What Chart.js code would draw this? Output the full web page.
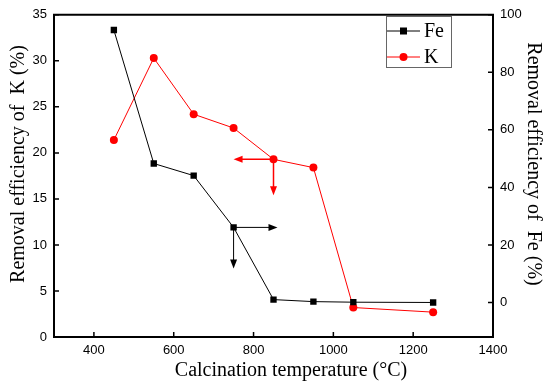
<!DOCTYPE html>
<html>
<head>
<meta charset="utf-8">
<script src="https://cdn.jsdelivr.net/npm/chart.js@4"></script>
<style>
  html, body { margin: 0; padding: 0; background: #fff; }
  #wrap { width: 550px; height: 385px; }
</style>
</head>
<body>
<div id="wrap"><canvas id="chart"></canvas></div>
<script>
const temps = [450, 550, 650, 750, 850, 950, 1050, 1250];
const feValues = [94.7, 48.3, 44.1, 26.1, 1.0, 0.3, 0.1, 0.0];
const kValues = [21.4, 30.3, 24.2, 22.7, 19.3, 18.4, 3.2, 2.7];
const xTicks = [400, 600, 800, 1000, 1200, 1400];
const kTicks = [0, 5, 10, 15, 20, 25, 30, 35];
const feTicks = [0, 20, 40, 60, 80, 100];

const xTitle = "Calcination temperature (°C)";
const kTitle = "Removal efficiency of  K (%)";
const feTitle = "Removal efficiency of  Fe (%)";

// arrows telling which axis each series belongs to
const arrows = [
  { axis: "y1", color: "#000", x0: 750, y0: 26.1, x1: 860, y1: 26.1 },
  { axis: "y1", color: "#000", x0: 750, y0: 26.1, x1: 750, y1: 11.8 },
  { axis: "y", color: "#ff0000", x0: 850, y0: 19.3, x1: 750, y1: 19.3 },
  { axis: "y", color: "#ff0000", x0: 850, y0: 19.3, x1: 850, y1: 15.4 },
];

const serif = "'Liberation Serif', 'Times New Roman', serif";
const sans = "'Liberation Sans', Arial, sans-serif";

function setTicks(list) {
  return (scale) => { scale.ticks = list.map((v) => ({ value: v })); };
}

const framePlugin = {
  id: "frame",
  afterDatasetsDraw(chart) {
    const { ctx, chartArea: a, scales } = chart;
    ctx.save();
    ctx.strokeStyle = "#000";
    ctx.lineWidth = 1.5;
    ctx.beginPath();
    xTicks.forEach((v) => {
      const px = scales.x.getPixelForValue(v);
      ctx.moveTo(px, a.bottom);
      ctx.lineTo(px, a.bottom - 5);
    });
    kTicks.forEach((v) => {
      const py = scales.y.getPixelForValue(v);
      ctx.moveTo(a.left, py);
      ctx.lineTo(a.left + 5, py);
    });
    feTicks.forEach((v) => {
      const py = scales.y1.getPixelForValue(v);
      ctx.moveTo(a.right, py);
      ctx.lineTo(a.right - 5, py);
    });
    ctx.stroke();
    ctx.lineWidth = 2;
    ctx.beginPath();
    ctx.moveTo(a.left - 1, a.top);
    ctx.lineTo(a.right + 1, a.top);
    ctx.stroke();

    // arrows
    arrows.forEach((ar) => {
      const x0 = scales.x.getPixelForValue(ar.x0);
      const y0 = scales[ar.axis].getPixelForValue(ar.y0);
      const x1 = scales.x.getPixelForValue(ar.x1);
      const y1 = scales[ar.axis].getPixelForValue(ar.y1);
      const ang = Math.atan2(y1 - y0, x1 - x0);
      ctx.strokeStyle = ar.color;
      ctx.fillStyle = ar.color;
      ctx.lineWidth = ar.color === "#000" ? 1 : 1.5;
      ctx.beginPath();
      ctx.moveTo(x0, y0);
      ctx.lineTo(x1 - 6 * Math.cos(ang), y1 - 6 * Math.sin(ang));
      ctx.stroke();
      ctx.beginPath();
      ctx.moveTo(x1, y1);
      ctx.lineTo(x1 - 9 * Math.cos(ang) + 3.5 * Math.sin(ang), y1 - 9 * Math.sin(ang) - 3.5 * Math.cos(ang));
      ctx.lineTo(x1 - 9 * Math.cos(ang) - 3.5 * Math.sin(ang), y1 - 9 * Math.sin(ang) + 3.5 * Math.cos(ang));
      ctx.closePath();
      ctx.fill();
    });

    // legend box
    ctx.lineWidth = 1;
    ctx.strokeStyle = "#666";
    ctx.strokeRect(386.5, 16.5, 65, 51);
    const rows = [
      { label: "Fe", color: "#000", y: 31, square: true },
      { label: "K", color: "#ff0000", y: 57, square: false },
    ];
    ctx.font = "20px " + serif;
    ctx.textBaseline = "middle";
    rows.forEach((r) => {
      ctx.strokeStyle = r.color;
      ctx.fillStyle = r.color;
      ctx.beginPath();
      ctx.moveTo(387, r.y);
      ctx.lineTo(420, r.y);
      ctx.stroke();
      if (r.square) {
        ctx.fillRect(400, r.y - 3.5, 7, 7);
      } else {
        ctx.beginPath();
        ctx.arc(403.5, r.y, 4, 0, Math.PI * 2);
        ctx.fill();
      }
      ctx.fillStyle = "#000";
      ctx.fillText(r.label, 424, r.y + 1);
    });

    // axis titles
    ctx.fillStyle = "#000";
    ctx.font = "20px " + serif;
    ctx.textAlign = "center";
    ctx.textBaseline = "alphabetic";
    ctx.fillText(xTitle, 291, 376);
    ctx.save();
    ctx.translate(24, 164);
    ctx.rotate(-Math.PI / 2);
    ctx.fillText(kTitle, 0, 0);
    ctx.restore();
    ctx.save();
    ctx.translate(528, 164);
    ctx.rotate(Math.PI / 2);
    ctx.fillText(feTitle, 0, 0);
    ctx.restore();
    ctx.restore();
  },
};

const tickFmt = (v) => String(v);

new Chart(document.getElementById("chart"), {
  type: "line",
  data: {
    datasets: [
      {
        label: "Fe",
        data: temps.map((t, i) => ({ x: t, y: feValues[i] })),
        yAxisID: "y1",
        borderColor: "#000",
        backgroundColor: "#000",
        borderWidth: 1,
        pointStyle: "rect",
        pointRadius: 4.5,
        pointBorderWidth: 0,
        order: 0,
      },
      {
        label: "K",
        data: temps.map((t, i) => ({ x: t, y: kValues[i] })),
        yAxisID: "y",
        borderColor: "#ff0000",
        backgroundColor: "#ff0000",
        borderWidth: 1,
        pointStyle: "circle",
        pointRadius: 4,
        pointBorderWidth: 0,
        order: 1,
      },
    ],
  },
  options: {
    responsive: true,
    maintainAspectRatio: false,
    animation: false,
    layout: { padding: { top: 12, left: 0, right: 0, bottom: 0 } },
    plugins: { legend: { display: false }, tooltip: { enabled: false } },
    scales: {
      x: {
        type: "linear",
        min: 300,
        max: 1400,
        afterBuildTicks: setTicks(xTicks),
        afterFit: (s) => { s.height = 48; },
        grid: { display: false, drawTicks: false },
        border: { display: true, color: "#000", width: 2 },
        ticks: { color: "#000", padding: 6, callback: tickFmt, font: { family: sans, size: 13 } },
      },
      y: {
        position: "left",
        min: 0,
        max: 35,
        afterBuildTicks: setTicks(kTicks),
        afterFit: (s) => { s.width = 54; },
        grid: { display: false, drawTicks: false },
        border: { display: true, color: "#000", width: 2 },
        ticks: { color: "#000", padding: 7, callback: tickFmt, font: { family: sans, size: 13 } },
      },
      y1: {
        position: "right",
        min: -12,
        max: 100,
        afterBuildTicks: setTicks(feTicks),
        afterFit: (s) => { s.width = 57; },
        grid: { display: false, drawTicks: false },
        border: { display: true, color: "#000", width: 2 },
        ticks: { color: "#000", padding: 7, callback: tickFmt, font: { family: sans, size: 13 } },
      },
    },
  },
  plugins: [framePlugin],
});
</script>
</body>
</html>
